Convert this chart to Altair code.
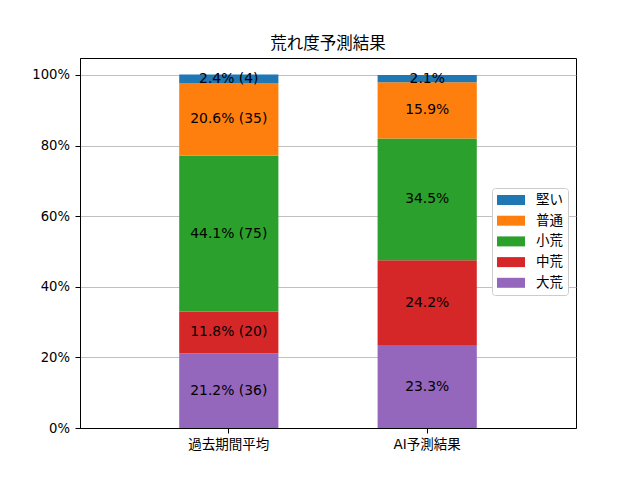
import altair as alt
import pandas as pd

groups = ["過去期間平均", "AI予測結果"]
levels = ["大荒", "中荒", "小荒", "普通", "堅い"]  # bottom to top
legend_order = ["堅い", "普通", "小荒", "中荒", "大荒"]
colors = {"堅い": "#1f77b4", "普通": "#ff7f0e", "小荒": "#2ca02c", "中荒": "#d62728", "大荒": "#9467bd"}

past_pct = [21.2, 11.8, 44.1, 20.6, 2.4]
past_cnt = [36, 20, 75, 35, 4]
ai_pct = [23.3, 24.2, 34.5, 15.9, 2.1]

rows = []
for g, pcts, cnts in [(groups[0], past_pct, past_cnt), (groups[1], ai_pct, None)]:
    base = 0.0
    for i, (lv, p) in enumerate(zip(levels, pcts)):
        label = f"{p:.1f}% ({cnts[i]})" if cnts else f"{p:.1f}%"
        rows.append({"group": g, "level": levels[i], "pct": p, "y0": base, "y1": base + p,
                     "mid": base + p / 2, "label": label, "ord": i})
        base += p
df = pd.DataFrame(rows)

FONT = "DejaVu Sans, Noto Sans CJK JP"

x = alt.X("group:N", sort=groups, title=None,
          scale=alt.Scale(paddingInner=0.5, paddingOuter=0.5),
          axis=alt.Axis(labelAngle=0, labelFontSize=13.5, labelColor="black", labelFont=FONT,
                        domainColor="black", tickColor="black", tickSize=5, labelPadding=4,
                        grid=False))

bars = alt.Chart(df).mark_bar().encode(
    x=x,
    y=alt.Y("y0:Q", title=None,
            scale=alt.Scale(domain=[0, 104.8], nice=False, zero=True),
            axis=alt.Axis(values=[0, 20, 40, 60, 80, 100], labelExpr="datum.value + '%'",
                          labelFontSize=13.2, labelColor="black", labelFont=FONT,
                          domainColor="black", tickColor="black", tickSize=5, labelPadding=5.5,
                          grid=True, gridColor="#b0b0b0", gridWidth=0.8)),
    y2="y1:Q",
    color=alt.Color("level:N",
                    scale=alt.Scale(domain=legend_order, range=[colors[k] for k in legend_order]),
                    legend=alt.Legend(title=None, orient="none", legendX=412, legendY=130,
                                      labelFontSize=13.5, labelFont=FONT, labelColor="black",
                                      symbolType="M-1,-0.714L3,-0.714L3,0.714L-1,0.714Z",
                                      symbolSize=196, symbolStrokeWidth=0,
                                      symbolOpacity=1,
                                      padding=5, rowPadding=6.7, labelOffset=25,
                                      fillColor="white", strokeColor="#cccccc",
                                      cornerRadius=3)),
    order=alt.Order("ord:Q"),
)

texts = alt.Chart(df).mark_text(fontSize=13.9, font=FONT, color="black").encode(
    x=alt.X("group:N", sort=groups),
    y=alt.Y("mid:Q"),
    text="label:N",
)

chart = (bars + texts).properties(
    width=496, height=370,
    background="white",
    title=alt.Title("荒れ度予測結果", fontSize=16.5, font=FONT, fontWeight="normal", color="black", offset=6),
    autosize=alt.AutoSizeParams(type="none"),
    padding={"left": 72, "top": 50, "right": 56, "bottom": 52},
).configure_view(stroke="black", strokeWidth=1)

chart.save("out.html", embed_options={"renderer": "svg", "actions": False})
